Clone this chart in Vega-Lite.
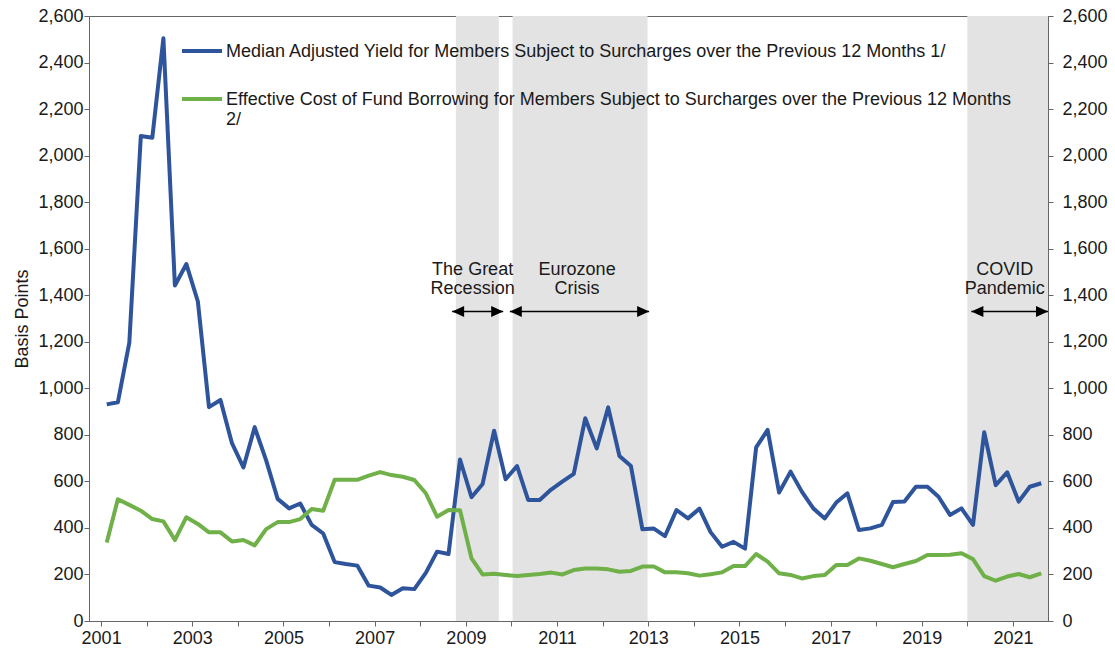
{
  "$schema": "https://vega.github.io/schema/vega-lite/v6.json",
  "width": 959,
  "height": 605,
  "autosize": {"type": "none"},
  "padding": {"left": 89, "top": 16, "right": 67, "bottom": 33},
  "background": "white",
  "config": {
    "font": "Liberation Sans",
    "view": {"stroke": "#666666", "strokeWidth": 1},
    "axis": {
      "labelFont": "Liberation Sans",
      "labelFontSize": 18,
      "labelColor": "#1a1a1a",
      "domainColor": "#666666",
      "tickColor": "#666666",
      "grid": false,
      "titleFont": "Liberation Sans",
      "titleFontSize": 18,
      "titleFontWeight": "normal",
      "titleColor": "#1a1a1a"
    }
  },
  "datasets": {
    "series": [
      {"date": "2001-02-15", "yield": 931, "cost": 337},
      {"date": "2001-05-15", "yield": 940, "cost": 523},
      {"date": "2001-08-15", "yield": 1196, "cost": 499},
      {"date": "2001-11-15", "yield": 2084, "cost": 474},
      {"date": "2002-02-15", "yield": 2077, "cost": 438},
      {"date": "2002-05-15", "yield": 2504, "cost": 428},
      {"date": "2002-08-15", "yield": 1442, "cost": 348},
      {"date": "2002-11-15", "yield": 1534, "cost": 446},
      {"date": "2003-02-15", "yield": 1373, "cost": 417},
      {"date": "2003-05-15", "yield": 919, "cost": 381},
      {"date": "2003-08-15", "yield": 950, "cost": 381},
      {"date": "2003-11-15", "yield": 764, "cost": 342},
      {"date": "2004-02-15", "yield": 660, "cost": 348},
      {"date": "2004-05-15", "yield": 833, "cost": 325},
      {"date": "2004-08-15", "yield": 690, "cost": 395},
      {"date": "2004-11-15", "yield": 525, "cost": 425},
      {"date": "2005-02-15", "yield": 484, "cost": 425},
      {"date": "2005-05-15", "yield": 505, "cost": 438},
      {"date": "2005-08-15", "yield": 413, "cost": 481},
      {"date": "2005-11-15", "yield": 376, "cost": 474},
      {"date": "2006-02-15", "yield": 253, "cost": 607},
      {"date": "2006-05-15", "yield": 245, "cost": 607},
      {"date": "2006-08-15", "yield": 238, "cost": 607},
      {"date": "2006-11-15", "yield": 152, "cost": 625},
      {"date": "2007-02-15", "yield": 144, "cost": 640},
      {"date": "2007-05-15", "yield": 112, "cost": 627},
      {"date": "2007-08-15", "yield": 141, "cost": 620},
      {"date": "2007-11-15", "yield": 137, "cost": 606},
      {"date": "2008-02-15", "yield": 207, "cost": 549},
      {"date": "2008-05-15", "yield": 298, "cost": 448},
      {"date": "2008-08-15", "yield": 288, "cost": 477},
      {"date": "2008-11-15", "yield": 694, "cost": 476},
      {"date": "2009-02-15", "yield": 532, "cost": 269},
      {"date": "2009-05-15", "yield": 589, "cost": 200},
      {"date": "2009-08-15", "yield": 818, "cost": 203},
      {"date": "2009-11-15", "yield": 609, "cost": 198},
      {"date": "2010-02-15", "yield": 666, "cost": 193},
      {"date": "2010-05-15", "yield": 520, "cost": 198},
      {"date": "2010-08-15", "yield": 520, "cost": 202},
      {"date": "2010-11-15", "yield": 565, "cost": 208},
      {"date": "2011-02-15", "yield": 600, "cost": 200},
      {"date": "2011-05-15", "yield": 632, "cost": 219},
      {"date": "2011-08-15", "yield": 871, "cost": 226},
      {"date": "2011-11-15", "yield": 742, "cost": 226},
      {"date": "2012-02-15", "yield": 918, "cost": 222},
      {"date": "2012-05-15", "yield": 709, "cost": 212},
      {"date": "2012-08-15", "yield": 666, "cost": 215},
      {"date": "2012-11-15", "yield": 394, "cost": 234},
      {"date": "2013-02-15", "yield": 397, "cost": 234},
      {"date": "2013-05-15", "yield": 365, "cost": 209},
      {"date": "2013-08-15", "yield": 477, "cost": 209},
      {"date": "2013-11-15", "yield": 441, "cost": 205},
      {"date": "2014-02-15", "yield": 483, "cost": 195},
      {"date": "2014-05-15", "yield": 382, "cost": 201},
      {"date": "2014-08-15", "yield": 319, "cost": 209},
      {"date": "2014-11-15", "yield": 340, "cost": 236},
      {"date": "2015-02-15", "yield": 311, "cost": 236},
      {"date": "2015-05-15", "yield": 746, "cost": 288},
      {"date": "2015-08-15", "yield": 821, "cost": 255},
      {"date": "2015-11-15", "yield": 552, "cost": 205},
      {"date": "2016-02-15", "yield": 642, "cost": 198},
      {"date": "2016-05-15", "yield": 556, "cost": 183},
      {"date": "2016-08-15", "yield": 484, "cost": 193},
      {"date": "2016-11-15", "yield": 441, "cost": 198},
      {"date": "2017-02-15", "yield": 509, "cost": 241},
      {"date": "2017-05-15", "yield": 549, "cost": 241},
      {"date": "2017-08-15", "yield": 391, "cost": 269},
      {"date": "2017-11-15", "yield": 398, "cost": 259},
      {"date": "2018-02-15", "yield": 413, "cost": 245},
      {"date": "2018-05-15", "yield": 511, "cost": 231},
      {"date": "2018-08-15", "yield": 514, "cost": 245},
      {"date": "2018-11-15", "yield": 577, "cost": 258},
      {"date": "2019-02-15", "yield": 577, "cost": 284},
      {"date": "2019-05-15", "yield": 534, "cost": 284},
      {"date": "2019-08-15", "yield": 456, "cost": 285},
      {"date": "2019-11-15", "yield": 484, "cost": 291},
      {"date": "2020-02-15", "yield": 413, "cost": 266},
      {"date": "2020-05-15", "yield": 811, "cost": 193},
      {"date": "2020-08-15", "yield": 584, "cost": 173},
      {"date": "2020-11-15", "yield": 639, "cost": 191},
      {"date": "2021-02-15", "yield": 513, "cost": 202},
      {"date": "2021-05-15", "yield": 577, "cost": 188},
      {"date": "2021-08-15", "yield": 592, "cost": 205}
    ],
    "bands": [
      {"start": "2008-10-13", "end": "2009-09-22"},
      {"start": "2010-01-10", "end": "2012-12-26"},
      {"start": "2020-01-01", "end": "2021-10-08"}
    ],
    "arrows": [
      {"start": "2008-09-13", "end": "2009-10-27", "level": 1330},
      {"start": "2009-12-19", "end": "2013-01-08", "level": 1330},
      {"start": "2020-02-02", "end": "2021-10-08", "level": 1330}
    ],
    "notes": [
      {"date": "2009-02-24", "level": 1510, "label": "The Great\nRecession"},
      {"date": "2011-06-11", "level": 1510, "label": "Eurozone\nCrisis"},
      {"date": "2020-10-26", "level": 1510, "label": "COVID\nPandemic"}
    ]
  },
  "layer": [
    {
      "layer": [
        {
          "data": {"name": "bands"},
          "mark": {"type": "rect", "color": "#e3e3e3"},
          "encoding": {
            "x": {"field": "start", "type": "temporal", "title": null,
                  "scale": {"type": "utc", "domain": [{"year": 2000, "month": 9, "date": 26, "utc": true}, {"year": 2021, "month": 10, "date": 8, "utc": true}]}},
            "x2": {"field": "end"}
          }
        },
        {
          "data": {"name": "arrows"},
          "mark": {"type": "rule", "color": "black", "strokeWidth": 1.5},
          "encoding": {
            "x": {"field": "start", "type": "temporal", "title": null,
                  "scale": {"type": "utc", "domain": [{"year": 2000, "month": 9, "date": 26, "utc": true}, {"year": 2021, "month": 10, "date": 8, "utc": true}]}},
            "x2": {"field": "end"},
            "y": {"field": "level", "type": "quantitative", "title": "Basis Points", "scale": {"domain": [0, 2600], "nice": false}}
          }
        },
        {
          "data": {"name": "arrows"},
          "mark": {"type": "point", "shape": "M0,0L2,-0.9L2,0.9Z", "size": 144, "filled": true, "color": "black", "opacity": 1},
          "encoding": {
            "x": {"field": "start", "type": "temporal", "title": null,
                  "scale": {"type": "utc", "domain": [{"year": 2000, "month": 9, "date": 26, "utc": true}, {"year": 2021, "month": 10, "date": 8, "utc": true}]}},
            "y": {"field": "level", "type": "quantitative", "title": "Basis Points", "scale": {"domain": [0, 2600], "nice": false}}
          }
        },
        {
          "data": {"name": "arrows"},
          "mark": {"type": "point", "shape": "M0,0L-2,-0.9L-2,0.9Z", "size": 144, "filled": true, "color": "black", "opacity": 1},
          "encoding": {
            "x": {"field": "end", "type": "temporal", "title": null,
                  "scale": {"type": "utc", "domain": [{"year": 2000, "month": 9, "date": 26, "utc": true}, {"year": 2021, "month": 10, "date": 8, "utc": true}]}},
            "y": {"field": "level", "type": "quantitative", "title": "Basis Points", "scale": {"domain": [0, 2600], "nice": false}}
          }
        },
        {
          "data": {"name": "notes"},
          "mark": {"type": "text", "font": "Liberation Sans", "fontSize": 18, "color": "#1a1a1a", "align": "center", "baseline": "middle", "lineBreak": "\n", "lineHeight": 19},
          "encoding": {
            "x": {"field": "date", "type": "temporal", "title": null,
                  "scale": {"type": "utc", "domain": [{"year": 2000, "month": 9, "date": 26, "utc": true}, {"year": 2021, "month": 10, "date": 8, "utc": true}]}},
            "y": {"field": "level", "type": "quantitative", "title": "Basis Points", "scale": {"domain": [0, 2600], "nice": false}},
            "text": {"field": "label"}
          }
        },
        {
          "data": {"name": "series"},
          "mark": {"type": "line", "strokeWidth": 4, "strokeJoin": "round"},
          "encoding": {
            "x": {"field": "date", "type": "temporal", "title": null,
                  "scale": {"type": "utc", "domain": [{"year": 2000, "month": 9, "date": 26, "utc": true}, {"year": 2021, "month": 10, "date": 8, "utc": true}]},
                  "axis": {"title": null, "tickCount": {"interval": "year", "step": 1},
                           "labelExpr": "utcyear(datum.value) % 2 == 1 ? utcFormat(datum.value, '%Y') : ''",
                           "tickSize": 5, "labelPadding": 3, "labelOverlap": false, "labelFlush": false}},
            "y": {"field": "yield", "type": "quantitative", "title": "Basis Points", "scale": {"domain": [0, 2600], "nice": false},
                  "axis": {"title": "Basis Points", "orient": "left", "values": [0, 200, 400, 600, 800, 1000, 1200, 1400, 1600, 1800, 2000, 2200, 2400, 2600],
                           "format": ",.0f", "tickSize": 5, "labelPadding": 1, "titlePadding": 6, "labelOverlap": false}},
            "color": {
              "datum": "Median Adjusted Yield for Members Subject to Surcharges over the Previous 12 Months 1/",
              "type": "nominal",
              "scale": {
                "domain": [
                  "Median Adjusted Yield for Members Subject to Surcharges over the Previous 12 Months 1/",
                  "Effective Cost of Fund Borrowing for Members Subject to Surcharges over the Previous 12 Months 2/"
                ],
                "range": ["#2E549C", "#70B048"]
              },
              "legend": {
                "orient": "none", "legendX": 91, "legendY": 19, "direction": "vertical", "title": null,
                "padding": 0, "symbolType": "M-1,-0.3L1,-0.3", "symbolSize": 1600, "symbolStrokeWidth": 4,
                "labelFont": "Liberation Sans", "labelFontSize": 18, "labelColor": "#1a1a1a", "labelLimit": 1000,
                "labelOffset": 2, "labelBaseline": "alphabetic", "rowPadding": 22,
                "labelExpr": "indexof(datum.label, 'Effective') == 0 ? [slice(datum.label, 0, -3), '2/'] : datum.label"
              }
            }
          }
        }
      ]
    },
    {
      "data": {"name": "series"},
      "mark": {"type": "line", "strokeWidth": 4, "strokeJoin": "round"},
      "encoding": {
        "x": {"field": "date", "type": "temporal", "title": null,
              "scale": {"type": "utc", "domain": [{"year": 2000, "month": 9, "date": 26, "utc": true}, {"year": 2021, "month": 10, "date": 8, "utc": true}]}},
        "y": {"field": "cost", "type": "quantitative", "scale": {"domain": [0, 2600], "nice": false},
              "axis": {"title": null, "orient": "right", "values": [0, 200, 400, 600, 800, 1000, 1200, 1400, 1600, 1800, 2000, 2200, 2400, 2600],
                       "format": ",.0f", "tickSize": 5, "labelPadding": 9, "labelOverlap": false}},
        "color": {"datum": "Effective Cost of Fund Borrowing for Members Subject to Surcharges over the Previous 12 Months 2/", "type": "nominal"}
      }
    }
  ],
  "resolve": {"scale": {"y": "independent"}}
}
